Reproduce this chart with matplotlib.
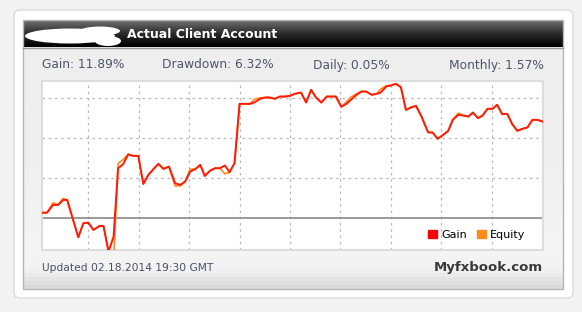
import matplotlib
matplotlib.use("Agg")
import matplotlib.pyplot as plt
import numpy as np
from matplotlib.patches import FancyBboxPatch, Rectangle, Ellipse, Patch

# Chart data (days since start, percent gain)
days = [0.1, 1.0, 2.2, 3.2, 4.2, 5.0, 7.2, 8.2, 9.2, 10.2, 11.4, 12.2, 13.2, 14.2,
        15.1, 16.1, 17.1, 18.1, 19.1, 20.1, 21.1, 22.1, 23.1, 24.1, 25.2, 26.4,
        27.4, 28.4, 29.4, 30.4, 31.4, 32.3, 33.3, 34.3, 35.3, 36.3, 37.2, 38.2,
        39.2, 40.1, 41.3, 42.1, 43.3, 44.3, 45.2, 46.2, 47.2, 48.2, 49.2, 50.2,
        51.4, 52.4, 53.4, 54.3, 55.4, 56.5, 57.5, 58.3, 59.4, 60.4, 61.3, 62.4,
        63.4, 64.3, 65.4, 66.4, 67.2, 68.3, 69.2, 70.2, 71.2, 72.2, 73.4, 74.2,
        75.3, 76.6, 77.5, 78.5, 79.6, 80.6, 81.5, 82.6, 83.6, 84.6, 85.5, 86.5,
        87.4, 88.4, 89.4, 90.3, 91.3, 92.3, 93.3, 94.3, 95.3, 96.3, 97.3, 98.3, 99.5]

gain = [0.66, 0.66, 1.63, 1.63, 2.25, 2.25, -2.41, -0.66, -0.59, -1.5, -1.0, -1.0,
        -4.2, -2.34, 6.21, 6.71, 7.94, 7.75, 7.75, 4.25, 5.38, 6.09, 6.75, 6.13,
        6.41, 4.34, 4.13, 4.54, 5.79, 6.09, 6.63, 5.25, 5.88, 6.21, 6.21, 6.56,
        5.71, 6.84, 14.25, 14.25, 14.25, 14.41, 14.88, 15.04, 15.04, 14.88, 15.16,
        15.16, 15.25, 15.5, 15.66, 14.41, 16.0, 15.09, 14.41, 15.16, 15.16, 15.16,
        13.88, 14.25, 14.75, 15.38, 15.79, 15.79, 15.38, 15.5, 15.66, 16.41, 16.54,
        16.75, 16.34, 13.5, 13.84, 14.0, 12.66, 10.69, 10.66, 9.88, 10.38, 10.88,
        12.25, 12.88, 12.79, 12.66, 13.16, 12.46, 12.79, 13.63, 13.63, 14.13, 12.96,
        13.0, 11.71, 10.88, 11.13, 11.29, 12.25, 12.25, 12.0]

equity = [0.66, 0.66, 1.9, 1.63, 2.45, 2.25, -2.41, -0.66, -0.59, -1.5, -1.0, -1.0,
          -4.2, -5.5, 6.8, 7.3, 7.94, 7.75, 7.75, 4.25, 5.38, 6.09, 6.75, 6.13,
          6.41, 4.0, 4.0, 4.54, 6.1, 6.09, 6.63, 5.25, 5.88, 6.21, 6.21, 5.5,
          5.71, 6.84, 14.25, 14.25, 14.25, 14.8, 15.0, 15.04, 15.04, 14.88, 15.16,
          15.16, 15.25, 15.5, 15.66, 14.41, 16.0, 15.09, 14.41, 15.16, 15.16, 15.16,
          13.88, 14.5, 15.1, 15.5, 15.79, 15.79, 15.38, 15.5, 16.1, 16.5, 16.54,
          16.75, 16.34, 13.5, 13.84, 14.0, 12.66, 10.69, 10.66, 9.88, 10.38, 10.88,
          12.25, 13.1, 12.79, 12.66, 13.16, 12.46, 12.79, 13.63, 13.63, 14.13, 12.96,
          13.0, 11.71, 10.88, 11.13, 11.29, 12.25, 12.25, 12.0]

stats = ["Gain: 11.89%", "Drawdown: 6.32%", "Daily: 0.05%", "Monthly: 1.57%"]
title = "Actual Client Account"
updated = "Updated 02.18.2014 19:30 GMT"
brand = "Myfxbook.com"

W, H = 582, 312
fig = plt.figure(figsize=(W / 100, H / 100), dpi=100)
fig.patch.set_facecolor("#f2f2f2")

# background layer in pixel coordinates
bg = fig.add_axes([0, 0, 1, 1])
bg.set_xlim(0, W)
bg.set_ylim(H, 0)
bg.axis("off")

bg.add_patch(FancyBboxPatch((14, 10), 559, 288, boxstyle="round,pad=0,rounding_size=6",
                            facecolor="white", edgecolor="#dcdcdc", lw=1))

# panel body
body = np.linspace(0, 1, 60).reshape(-1, 1)
body_cmap = matplotlib.colors.LinearSegmentedColormap.from_list(
    "body", [(0, "#eeeeee"), (0.5, "#f0f0f0"), (0.85, "#f5f5f5"), (0.93, "#f2f2f2"), (1, "#dadada")])
bg.imshow(body, extent=(23, 563, 289, 47), cmap=body_cmap, aspect="auto", zorder=1)
bg.add_patch(Rectangle((23, 20), 540, 269, facecolor="none", edgecolor="#b5b5b5", lw=1, zorder=3))

# header gradient
head = np.linspace(0, 1, 30).reshape(-1, 1)
head_cmap = matplotlib.colors.LinearSegmentedColormap.from_list("head", ["#707070", "#2a2a2a", "#000000"])
bg.imshow(head, extent=(23, 563, 47, 20), cmap=head_cmap, aspect="auto", zorder=2)
bg.plot([23, 563], [47.5, 47.5], color="#9a9a9a", lw=1, zorder=3)

# redaction scribble
bg.add_patch(Ellipse((70, 36), 90, 15, facecolor="white", edgecolor="none", zorder=4))
bg.add_patch(Ellipse((100, 31), 40, 9, facecolor="white", edgecolor="none", zorder=4))
bg.add_patch(Ellipse((108, 41), 26, 10, facecolor="white", edgecolor="none", zorder=4))
bg.text(127, 35, title, color="white", fontsize=9, fontweight="bold", va="center", ha="left", zorder=5)

stat_x = [42, 162, 313, 544]
for i, s in enumerate(stats):
    bg.text(stat_x[i], 65, s, color="#4e5566", fontsize=8.8, va="center",
            ha="right" if i == 3 else "left", zorder=5)

bg.text(42, 268, updated, color="#4a4f6a", fontsize=7.7, va="center", ha="left", zorder=5)
bg.text(543, 268, brand, color="#3a3a3a", fontsize=9.5, fontweight="bold", va="center", ha="right", zorder=5)

# chart area
ax = fig.add_axes([42 / W, (H - 250) / H, 501 / W, 169 / H])
ax.set_facecolor("white")
ax.plot(days, equity, color="#ff8c1a", lw=1.2, zorder=3)
ax.plot(days, gain, color="#ff1a0a", lw=1.4, zorder=4)
ax.axhline(0, color="#8a8a8a", lw=1.2, zorder=2)
ax.set_xlim(0, 99.4)
ax.set_ylim(-4, 17.1)
ax.set_xticks(np.arange(9.2, 99, 10))
ax.set_yticks([5, 10, 15])
ax.grid(True, color="#b8b8b8", linestyle=(0, (2, 3)), lw=0.9)
ax.tick_params(length=0, labelbottom=False, labelleft=False)
for sp in ax.spines.values():
    sp.set_color("#dddddd")
    sp.set_linewidth(1.5)

# square legend markers
ax.legend([Patch(color="#ff0000"), Patch(color="#ff8c1a")], ["Gain", "Equity"],
          loc="lower right", ncol=2, frameon=False, fontsize=8, handlelength=0.8,
          handleheight=0.8, handletextpad=0.4, columnspacing=0.9,
          bbox_to_anchor=(0.985, 0.0))

fig.savefig("out.png", dpi=100)
